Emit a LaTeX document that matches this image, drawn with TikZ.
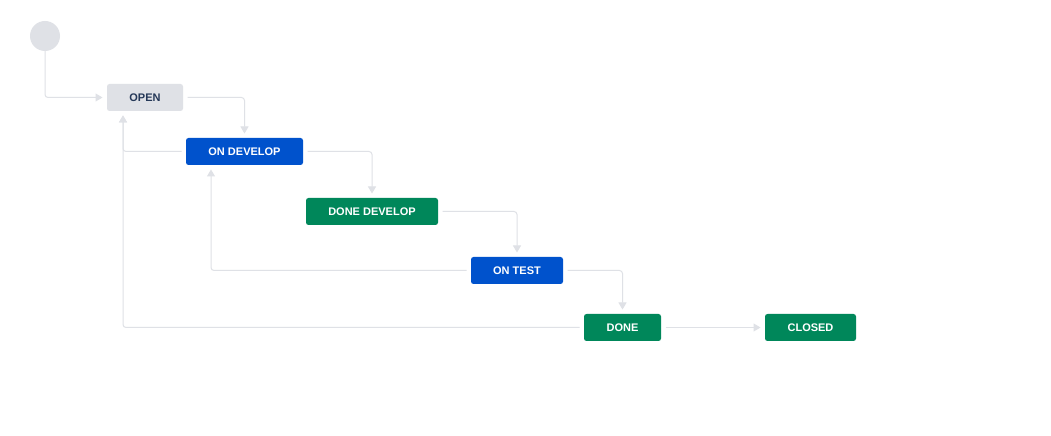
\documentclass[tikz,border=0pt]{standalone}
\usepackage{fontspec}
\setmainfont{Liberation Sans}
\usetikzlibrary{arrows.meta}
\definecolor{nGray}{HTML}{DFE1E6}
\definecolor{nNavy}{HTML}{253858}
\definecolor{nBlue}{HTML}{0052CC}
\definecolor{nGreen}{HTML}{00875A}
\definecolor{edgeGray}{HTML}{DFE1E6}
\begin{document}
\begin{tikzpicture}[x=1bp,y=-1bp,
  state/.style={rectangle, rounded corners=2.5bp, minimum height=27bp, inner sep=0pt,
    outer sep=4.5bp, font=\fontsize{11bp}{13bp}\selectfont\bfseries},
  grey/.style={state, fill=nGray, text=nNavy},
  blue/.style={state, fill=nBlue, text=white},
  green/.style={state, fill=nGreen, text=white},
  link/.style={draw=edgeGray, line width=1bp, rounded corners=3bp,
    -{Triangle[length=7bp,width=8bp]}}]
  \useasboundingbox (0,0) rectangle (1051,436);
  \fill[white] (0,0) rectangle (1051,436);

  % initial state
  \node[circle, fill=nGray, minimum size=30bp, inner sep=0pt] (start) at (45,36) {};

  % states
  \node[grey,  minimum width=76bp]  (open)   at (145,97.5)  {OPEN};
  \node[blue,  minimum width=117bp] (ondev)  at (244.5,151.5) {ON DEVELOP};
  \node[green, minimum width=132bp] (donedev) at (372,211.5) {DONE DEVELOP};
  \node[blue,  minimum width=92bp]  (ontest) at (517,270.5) {ON TEST};
  \node[green, minimum width=77bp]  (done)   at (622.5,327.5) {DONE};
  \node[green, minimum width=91bp]  (closed) at (810.5,327.5) {CLOSED};

  % helper points for the return paths
  \coordinate (backOpen) at (123,0);
  \coordinate (backDev)  at (211,0);

  % forward transitions
  \draw[link] (start.south) |- (open.west);
  \draw[link] (open.east) -| (ondev.north);
  \draw[link] (ondev.east) -| (donedev.north);
  \draw[link] (donedev.east) -| (ontest.north);
  \draw[link] (ontest.east) -| (done.north);
  \draw[link] (done.east) -- (closed.west);

  % return transitions
  \draw[link] (ondev.west) -| (backOpen |- open.south);
  \draw[link] (done.west) -| (backOpen |- open.south);
  \draw[link] (ontest.west) -| (backDev |- ondev.south);
\end{tikzpicture}
\end{document}
